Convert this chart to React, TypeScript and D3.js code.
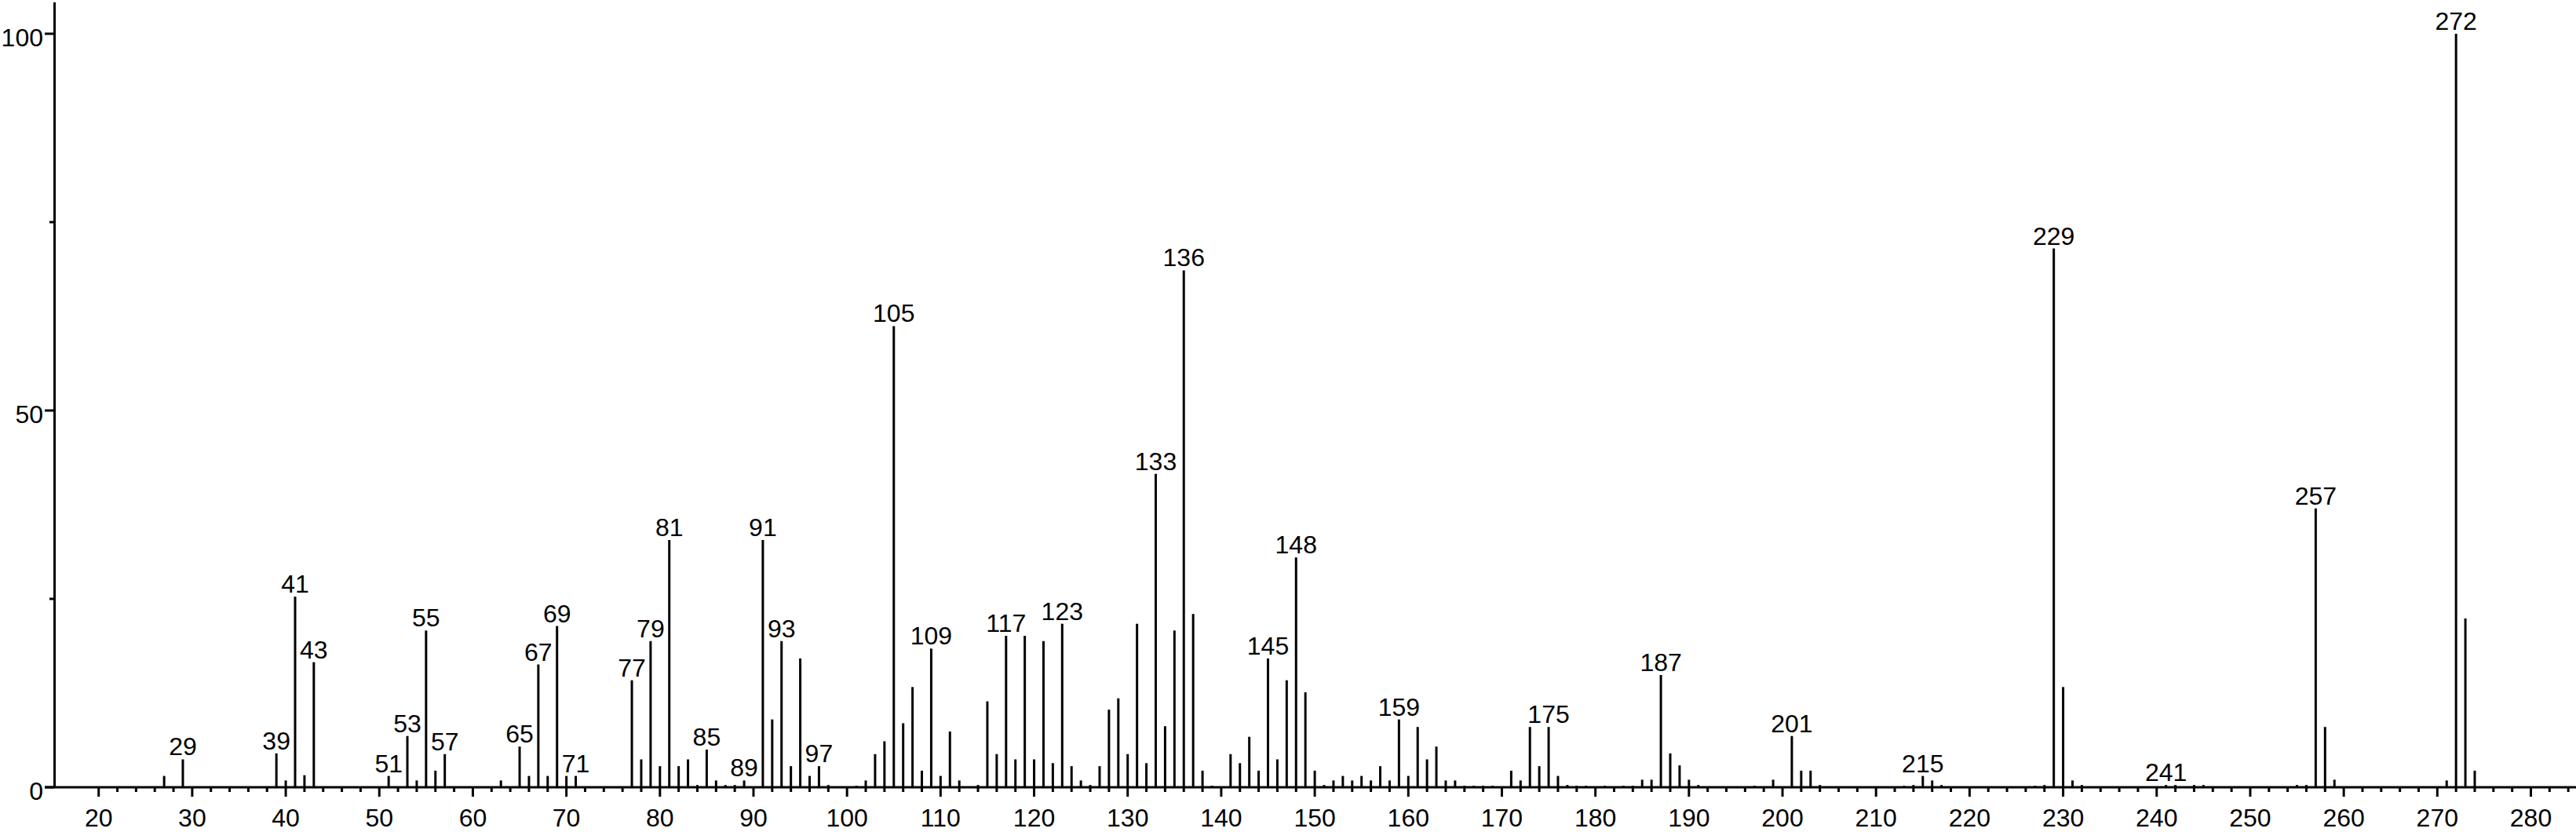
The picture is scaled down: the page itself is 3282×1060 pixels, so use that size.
import React, { useEffect } from "react";
import * as d3 from "d3";

// m/z values and relative intensities (%)
const mz: number[] = [
  27, 29, 39, 40, 41, 42, 43, 51, 53, 54, 55, 56, 57, 63, 65, 66, 67, 68, 69, 70, 71,
  77, 78, 79, 80, 81, 82, 83, 84, 85, 86, 87, 88, 89, 91, 92, 93, 94, 95, 96, 97, 98,
  101, 102, 103, 104, 105, 106, 107, 108, 109, 110, 111, 112, 114, 115, 116, 117, 118,
  119, 120, 121, 122, 123, 124, 125, 126, 127, 128, 129, 130, 131, 132, 133, 134, 135,
  136, 137, 138, 139, 141, 142, 143, 144, 145, 146, 147, 148, 149, 150, 151, 152, 153,
  154, 155, 156, 157, 158, 159, 160, 161, 162, 163, 164, 165, 166, 167, 168, 169, 171,
  172, 173, 174, 175, 176, 177, 178, 179, 181, 183, 184, 185, 186, 187, 188, 189, 190,
  191, 197, 199, 201, 202, 203, 204, 213, 214, 215, 216, 217, 227, 228, 229, 230, 231,
  232, 241, 242, 244, 245, 255, 256, 257, 258, 259, 271, 272, 273, 274,
];
const intensity: number[] = [
  1.5, 3.7, 4.5, 0.9, 25.3, 1.6, 16.6, 1.5, 6.8, 0.9, 20.8, 2.2, 4.4, 0.9, 5.4, 1.5, 16.3, 1.5, 21.4, 1.5, 1.5,
  14.2, 3.7, 19.4, 2.8, 32.8, 2.8, 3.7, 0.3, 5.0, 0.9, 0.3, 0.3, 0.9, 32.8, 9.0, 19.4, 2.8, 17.1, 1.5, 2.8, 0.3,
  0.2, 0.9, 4.4, 6.1, 61.2, 8.5, 13.3, 2.2, 18.4, 1.5, 7.4, 0.9, 0.3, 11.4, 4.4, 20.1, 3.7,
  20.1, 3.7, 19.4, 3.2, 21.7, 2.8, 0.9, 0.3, 2.8, 10.3, 11.8, 4.4, 21.7, 3.2, 41.6, 8.1, 20.8,
  68.6, 23.0, 2.2, 0.2, 4.4, 3.2, 6.7, 2.2, 17.1, 3.7, 14.2, 30.5, 12.6, 2.2, 0.3, 0.9, 1.5,
  0.9, 1.5, 0.9, 2.8, 0.9, 9.0, 1.5, 8.0, 3.7, 5.4, 0.9, 0.9, 0.2, 0.2, 0.2, 0.2, 2.2,
  0.9, 8.0, 2.8, 8.0, 1.5, 0.3, 0.2, 0.2, 0.2, 0.2, 0.2, 1.0, 1.0, 14.9, 4.5, 2.9, 1.0,
  0.3, 0.2, 1.0, 6.8, 2.2, 2.2, 0.3, 0.2, 0.3, 1.5, 0.9, 0.3, 0.2, 0.3, 71.5, 13.3, 0.9,
  0.3, 0.3, 0.3, 0.3, 0.3, 0.3, 0.3, 37.0, 8.0, 1.0, 0.9, 100, 22.4, 2.2,
];
const labeledMz: number[] = [
  29, 39, 41, 43, 51, 53, 55, 57, 65, 67, 69, 71, 77, 79, 81, 85, 89, 91, 93, 97, 105,
  109, 117, 123, 133, 136, 145, 148, 159, 175, 187, 201, 215, 229, 241, 257, 272,
];
const xTickValues: number[] = d3.range(20, 281, 10);
const xMinorTickValues: number[] = d3.range(22, 285, 2).filter((v) => v % 10 !== 0);
const yTickValues: number[] = [0, 50, 100];
const yMinorTickValues: number[] = [25, 75];

const W = 3282;
const H = 1060;
const FONT = "'Liberation Sans', Arial, Helvetica, sans-serif";

export default function App() {
  useEffect(() => {
    document.body.style.margin = "0";
  }, []);

  const x = d3.scaleLinear().domain([20, 280]).range([125.7, 3224.5]);
  const y = d3.scaleLinear().domain([0, 100]).range([1003, 43]);
  const axisX = 69.5;
  const y0 = y(0);

  const peaks = mz.map((m, i) => ({ m, v: intensity[i] }));
  const labels = labeledMz.map((m) => ({ m, v: intensity[mz.indexOf(m)] ?? 0 }));

  return (
    <svg width={W} height={H} style={{ display: "block", background: "#fff" }}>
      {/* peaks */}
      <g stroke="#000" strokeWidth={3}>
        {peaks.map((p) => (
          <line key={p.m} x1={x(p.m)} x2={x(p.m)} y1={y0} y2={y(p.v)} />
        ))}
      </g>
      {/* axes */}
      <g stroke="#000" strokeWidth={3}>
        <line x1={axisX} x2={axisX} y1={3} y2={y0} />
        <line x1={57} x2={W} y1={y0} y2={y0} />
        {yTickValues.map((t) => (
          <line key={"yt" + t} x1={57} x2={axisX} y1={y(t)} y2={y(t)} />
        ))}
        {yMinorTickValues.map((t) => (
          <line key={"ym" + t} x1={63} x2={axisX} y1={y(t)} y2={y(t)} />
        ))}
        {xTickValues.map((t) => (
          <line key={"xt" + t} x1={x(t)} x2={x(t)} y1={y0} y2={y0 + 12} />
        ))}
        {xMinorTickValues.map((t) => (
          <line key={"xm" + t} x1={x(t)} x2={x(t)} y1={y0} y2={y0 + 6} />
        ))}
      </g>
      <g fontFamily={FONT} fontSize={32} fill="#000">
        {xTickValues.map((t) => (
          <text key={"xl" + t} x={x(t)} y={1053} textAnchor="middle">
            {t}
          </text>
        ))}
        {yTickValues.map((t) => (
          <text key={"yl" + t} x={55} y={y(t) + 16} textAnchor="end">
            {t}
          </text>
        ))}
        {labels.map((l) => (
          <text key={"pl" + l.m} x={x(l.m)} y={y(l.v) - 5} textAnchor="middle">
            {l.m}
          </text>
        ))}
      </g>
    </svg>
  );
}
